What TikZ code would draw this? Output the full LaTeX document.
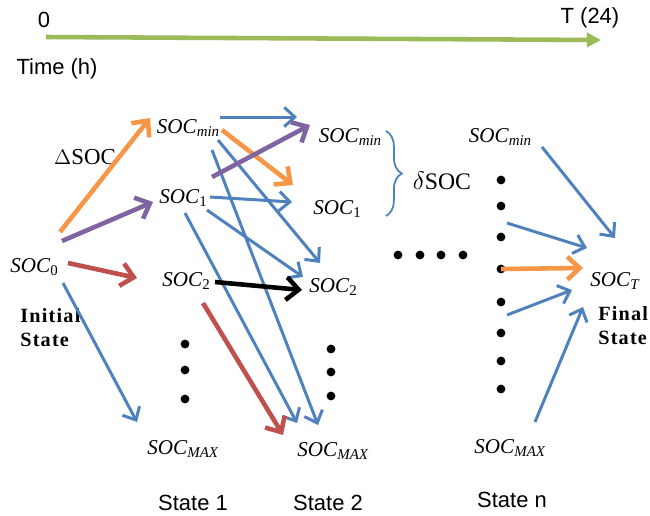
\documentclass[tikz,border=0pt]{standalone}
\usepackage{fontspec}
\setmainfont{Liberation Serif}
\setsansfont{Liberation Sans}
\usetikzlibrary{arrows.meta, decorations.pathreplacing}

\definecolor{pptblue}{HTML}{4F81BD}
\definecolor{pptorange}{HTML}{F79646}
\definecolor{pptpurple}{HTML}{8064A2}
\definecolor{pptred}{HTML}{C0504D}
\definecolor{pptgreen}{HTML}{9BBB59}

% state of charge label with its index
\newcommand{\soclabel}[1]{\textit{SOC}\raisebox{-0.3ex}{\fontsize{8.5}{9}\selectfont #1}}

\begin{document}
\begin{tikzpicture}[x=0.02cm, y=-0.02cm,
    soc/.style={inner sep=0pt, font=\fontsize{12}{14}\selectfont},
    lbl/.style={inner sep=0pt, font=\sffamily\fontsize{12.5}{14}\selectfont},
    boldlbl/.style={inner sep=0pt, anchor=north west, align=left,
        font=\bfseries\fontsize{11.5}{14}\selectfont\addfontfeatures{LetterSpace=6}},
    bullet/.style={circle, fill=black, inner sep=0pt, minimum size=5pt},
    flow/.style={-{Straight Barb[length=6pt, width=11pt]}, pptblue, line width=1.7pt},
    bigflow/.style={-{Straight Barb[length=7pt, width=13pt]}, line width=2.6pt}]
    \useasboundingbox (0,0) rectangle (650,515);

    % Time axis
    \coordinate (tstart) at (46,37);
    \coordinate (tend) at (601,40);
    \draw[-{Triangle[length=8pt, width=8pt]}, pptgreen, line width=2.6pt] (tstart) -- (tend);
    \node[lbl] (tzero) at (44,20) {0};
    \node[lbl] (tfinal) at (590,18) {T (24)};
    \node[lbl] (tunit) at (57,69) {Time (h)};

    % Initial state
    \node[soc] (soc0) at (34,267) {\soclabel{0}};
    \node[boldlbl] (init) at (20,308) {Initial\\State};

    % State 1
    \node[soc] (minA) at (188,128) {\soclabel{\textit{min}}};
    \node[soc] (oneA) at (183,198) {\soclabel{1}};
    \node[soc] (twoA) at (186,281) {\soclabel{2}};
    \node[soc] (maxA) at (183,449) {\soclabel{\textit{MAX}}};
    \foreach \i/\y in {1/344, 2/370, 3/399}
        \node[bullet] (dA\i) at (185,\y) {};
    \node[lbl] (stA) at (193,503) {State 1};

    % State 2
    \node[soc] (minB) at (350,137) {\soclabel{\textit{min}}};
    \node[soc] (oneB) at (337,209) {\soclabel{1}};
    \node[soc] (twoB) at (333,287) {\soclabel{2}};
    \node[soc] (maxB) at (333,451) {\soclabel{\textit{MAX}}};
    \foreach \i/\y in {1/349, 2/372, 3/396}
        \node[bullet] (dB\i) at (331,\y) {};
    \node[lbl] (stB) at (328,503) {State 2};

    % step size between two levels
    \coordinate (btop) at (386,131);
    \coordinate (bbot) at (386,216);
    \draw[pptblue, line width=1pt, decorate, decoration={brace, amplitude=9pt}] (btop) -- (bbot);
    \node[inner sep=0pt, font=\fontsize{13.5}{15}\selectfont] (dsoc) at (442,181) {$\delta$SOC};

    % intermediate states
    \foreach \i/\x in {1/398, 2/420, 3/441, 4/463}
        \node[bullet] (h\i) at (\x,255) {};

    % State n
    \node[soc] (minN) at (500,137) {\soclabel{\textit{min}}};
    \node[soc] (maxN) at (510,448) {\soclabel{\textit{MAX}}};
    \foreach \i/\y in {1/180, 2/206, 3/237, 4/269, 5/302, 6/333, 7/361, 8/389}
        \node[bullet] (dN\i) at (501,\y) {};
    \node[lbl] (stN) at (512,500) {State n};

    % Final state
    \node[soc] (socT) at (615,281) {\soclabel{\textit{T}}};
    \node[boldlbl] (final) at (598,306) {Final\\State};

    % from the initial state
    \node[inner sep=0pt, font=\fontsize{13}{15}\selectfont] (bigdsoc) at (85,157) {$\Delta$SOC};
    \draw[bigflow, pptorange] ([shift={(26,-35)}]soc0.center) -- ([shift={(-38,-10)}]minA.center);
    \draw[bigflow, pptpurple] ([shift={(28,-26)}]soc0.center) -- ([shift={(-30,4)}]oneA.center);
    \draw[bigflow, pptred] ([shift={(34,-4)}]soc0.center) -- ([shift={(-49,-3)}]twoA.center);
    \draw[flow] ([shift={(29,16)}]soc0.center) -- ([shift={(-46,-27)}]maxA.center);

    % from state 1 to state 2
    \draw[flow] ([shift={(32,-11)}]minA.center) -- ([shift={(-53,-20)}]minB.center);
    \draw[flow] ([shift={(30,12)}]minA.center) -- ([shift={(-13,-24)}]twoB.center);
    \draw[flow] ([shift={(24,22)}]minA.center) -- ([shift={(-15,-26)}]maxB.center);
    \draw[flow] ([shift={(27,-1)}]oneA.center) -- ([shift={(-45,-7)}]oneB.center);
    \draw[flow] ([shift={(24,12)}]oneA.center) -- ([shift={(-30,-10)}]twoB.center);
    \draw[flow] ([shift={(2,15)}]oneA.center) -- ([shift={(-36,-28)}]maxB.center);
    \draw[bigflow, pptorange] ([shift={(34,2)}]minA.center) -- ([shift={(-44,-24)}]oneB.center);
    \draw[bigflow, pptpurple] ([shift={(29,-21)}]oneA.center) -- ([shift={(-40,-12)}]minB.center);
    \draw[bigflow, black] ([shift={(29,1)}]twoA.center) -- ([shift={(-31,3)}]twoB.center);
    \draw[bigflow, pptred] ([shift={(17,22)}]twoA.center) -- ([shift={(-50,-16)}]maxB.center);

    % from state n to the final state
    \draw[flow] ([shift={(42,10)}]minN.center) -- ([shift={(0,-43)}]socT.center);
    \draw[flow] ([shift={(6,-14)}]dN3.center) -- ([shift={(-28,-33)}]socT.center);
    \draw[bigflow, pptorange] (dN4.center) -- ([shift={(-32,-13)}]socT.center);
    \draw[flow] ([shift={(6,13)}]dN5.center) -- ([shift={(-43,9)}]socT.center);
    \draw[flow] ([shift={(25,-26)}]maxN.center) -- ([shift={(-32,26)}]socT.center);
\end{tikzpicture}
\end{document}
